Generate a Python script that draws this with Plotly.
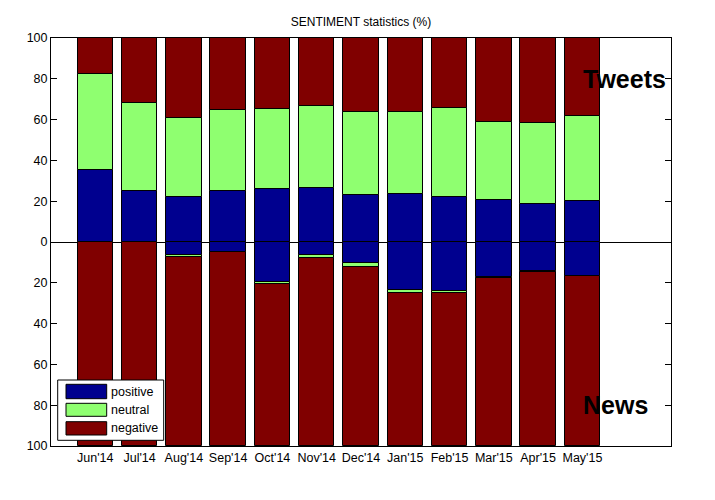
import plotly.graph_objects as go

months = ["Jun'14", "Jul'14", "Aug'14", "Sep'14", "Oct'14", "Nov'14",
          "Dec'14", "Jan'15", "Feb'15", "Mar'15", "Apr'15", "May'15"]

# Tweets (upper half, %)
tweets_positive = [35.3, 24.9, 21.9, 24.9, 25.9, 26.5, 23.1, 23.4, 22.1, 20.6, 18.7, 20.0]
tweets_neutral = [46.9, 43.2, 38.8, 39.7, 39.2, 40.1, 40.6, 40.3, 43.5, 38.2, 39.6, 41.7]
tweets_negative = [100 - p - n for p, n in zip(tweets_positive, tweets_neutral)]

# News (lower half, %)
news_positive = [0.0, 0.0, 6.5, 5.1, 19.5, 6.5, 10.1, 23.4, 24.2, 17.0, 14.2, 16.8]
news_neutral = [0.0, 0.0, 0.9, 0.0, 1.1, 1.4, 2.2, 1.8, 0.8, 0.8, 0.5, 0.0]
news_negative = [100 - p - n for p, n in zip(news_positive, news_neutral)]

series_names = ["positive", "neutral", "negative"]
colors = ["#00008F", "#8FFF70", "#800000"]

y_ticks = [-100, -80, -60, -40, -20, 0, 20, 40, 60, 80, 100]
y_tick_labels = [str(abs(v)) for v in y_ticks]

FONT = "Liberation Sans, Arial, sans-serif"

fig = go.Figure()
for name, vals, col in zip(series_names,
                           [tweets_positive, tweets_neutral, tweets_negative], colors):
    fig.add_trace(go.Bar(x=months, y=vals, name=name, width=0.8,
                         marker=dict(color=col, line=dict(color="black", width=1)),
                         showlegend=False))
for name, vals, col in zip(series_names,
                           [news_positive, news_neutral, news_negative], colors):
    fig.add_trace(go.Bar(x=months, y=[-v for v in vals], name=name, width=0.8,
                         marker=dict(color=col, line=dict(color="black", width=1)),
                         showlegend=False))

W, H = 715, 500
OFF = 7  # page offset of the figure in the screenshot
# target plot area in screenshot pixels
PL, PR, PT, PB = 50, 670, 37, 445
L, R, T, B = PL - OFF, W - (PR - OFF), PT - OFF, H - (PB - OFF)
pw, ph = PR - PL, PB - PT


def px(x):
    return (x - PL) / pw


def py(y):
    return (PB - y) / ph


shapes = []
annotations = []
# custom legend (MATLAB style)
shapes.append(dict(type="rect", xref="paper", yref="paper",
                   x0=px(56.7), x1=px(162.7), y0=py(439.3), y1=py(379),
                   fillcolor="white", line=dict(color="black", width=1), layer="above"))
rows = [(383.3, 397.7), (402.3, 415.3), (420.7, 434.0)]
for (ya, yb), col, name in zip(rows, colors, series_names):
    shapes.append(dict(type="rect", xref="paper", yref="paper",
                       x0=px(65), x1=px(105.7), y0=py(yb), y1=py(ya),
                       fillcolor=col, line=dict(color="black", width=1), layer="above"))
    annotations.append(dict(text=name, xref="paper", yref="paper",
                            x=px(107.5), y=py((ya + yb) / 2), xanchor="left",
                            yanchor="middle", showarrow=False,
                            font=dict(family=FONT, size=12.5, color="black")))

annotations.append(dict(text="<b>Tweets</b>", x=months[-1], y=80, xref="x", yref="y",
                        xshift=-1, xanchor="left", yanchor="middle", showarrow=False,
                        font=dict(family=FONT, size=25, color="black")))
annotations.append(dict(text="<b>News</b>", x=months[-1], y=-80, xref="x", yref="y",
                        xshift=-1, xanchor="left", yanchor="middle", showarrow=False,
                        font=dict(family=FONT, size=25, color="black")))

fig.update_layout(
    width=W, height=H,
    margin=dict(l=L, r=R, t=T, b=B),
    barmode="relative",
    bargap=0,
    plot_bgcolor="white",
    paper_bgcolor="white",
    font=dict(family=FONT, size=12, color="black"),
    title=dict(text="SENTIMENT statistics (%)", x=(L + pw / 2) / W, xanchor="center",
               y=1 - (21 - OFF) / H, yanchor="middle",
               font=dict(family=FONT, size=12, color="black")),
    shapes=shapes,
    annotations=annotations,
)
fig.update_xaxes(range=[-1, 13], showline=True, linecolor="black", linewidth=1,
                 mirror=True, ticks="", showgrid=False, zeroline=False,
                 tickfont=dict(family=FONT, size=12.5, color="black"))
fig.update_yaxes(range=[-100, 100], tickvals=y_ticks, ticktext=y_tick_labels,
                 showline=True, linecolor="black", linewidth=1, mirror="ticks",
                 ticks="inside", ticklen=6, tickcolor="black", showgrid=False,
                 zeroline=True, zerolinecolor="black", zerolinewidth=1,
                 tickfont=dict(family=FONT, size=12.5, color="black"))

fig.write_html("out.html")
